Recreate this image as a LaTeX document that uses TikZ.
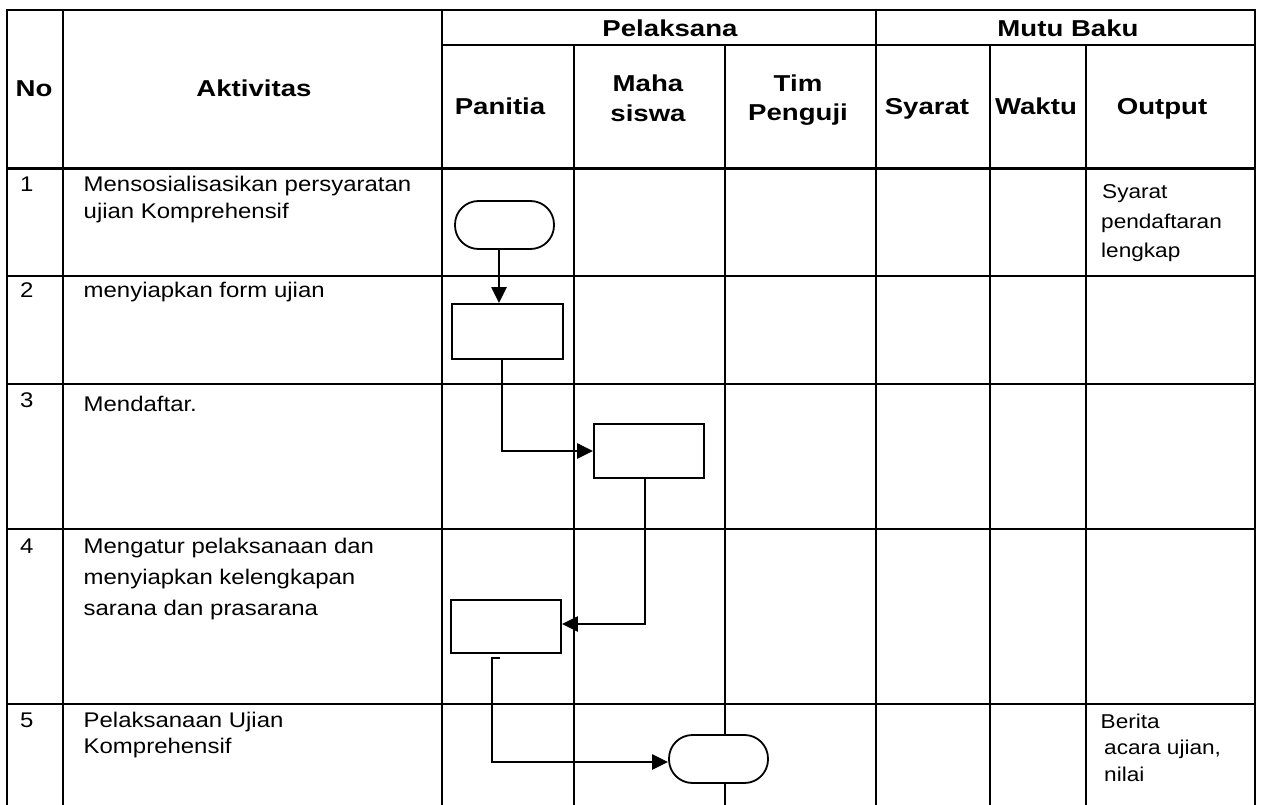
\documentclass[tikz,border=0pt]{standalone}
\usepackage{fontspec}
\setmainfont{Liberation Sans}[FakeStretch=1.13]
\newfontfamily\hdfont{Liberation Sans}[FakeStretch=1.2]
\usetikzlibrary{arrows.meta}
\begin{document}
\begin{tikzpicture}[x=1pt,y=-1pt,
  grid/.style={line width=2.6pt, line cap=rect},
  hd/.style={font=\hdfont\fontsize{23}{28}\selectfont\bfseries, inner sep=0, anchor=base},
  bd/.style={font=\fontsize{20}{24}\selectfont, inner sep=0, anchor=base west},
  act/.style={font=\fontsize{21.2}{25}\selectfont, inner sep=0, anchor=base west},
  term/.style={draw, line width=1.8pt, fill=white, rounded corners=23.5pt, minimum width=99pt, minimum height=48pt, inner sep=0},
  proc/.style={draw, line width=1.8pt, fill=white, inner sep=0},
  flow/.style={line width=2.3pt, -{Triangle[length=16pt,width=15pt]}}
]
\useasboundingbox (0,0) rectangle (1262,805);
% grid
\draw[grid] (7,10) -- (1255,10);
\draw[grid] (442,45) -- (1255,45);
\foreach \yy in {168.5,276,384,529,704} \draw[grid] (7,\yy) -- (1255,\yy);
\foreach \xx in {7,63,442,876,1255} \draw[grid] (\xx,10) -- (\xx,808);
\foreach \xx in {574,725,990,1086} \draw[grid] (\xx,45) -- (\xx,808);
% headers
\node[hd] (hNo) at (34,97) {No};
\node[hd] (hAkt) at (254,97) {Aktivitas};
\node[hd] (hPel) at (670,37) {Pelaksana};
\node[hd] (hMutu) at (1068,37) {Mutu Baku};
\node[hd] (hPan) at (500,115) {Panitia};
\node[hd] (hMaha1) at (648,92) {Maha};
\node[hd] (hMaha2) at (648,122) {siswa};
\node[hd] (hTim1) at (798,92) {Tim};
\node[hd] (hTim2) at (798,121) {Penguji};
\node[hd] (hSy) at (927,115) {Syarat};
\node[hd] (hWk) at (1036,115) {Waktu};
\node[hd] (hOut) at (1162,115) {Output};
% numbers
\node[act] (n1) at (20,192) {1};
\node[act] (n2) at (20,298) {2};
\node[act] (n3) at (20,407) {3};
\node[act] (n4) at (20,553) {4};
\node[act] (n5) at (20,727) {5};
% activities
\node[act] (a1a) at (83.5,192) {Mensosialisasikan persyaratan};
\node[act] (a1b) at (83.5,218.5) {ujian Komprehensif};
\node[act] (a2) at (83.5,298) {menyiapkan form ujian};
\node[act] (a3) at (83.5,411.5) {Mendaftar.};
\node[act] (a4a) at (83.5,553) {Mengatur pelaksanaan dan};
\node[act] (a4b) at (83.5,584) {menyiapkan kelengkapan};
\node[act] (a4c) at (83.5,615.5) {sarana dan prasarana};
\node[act] (a5a) at (83.5,727) {Pelaksanaan Ujian};
\node[act] (a5b) at (83.5,753) {Komprehensif};
% outputs
\node[bd] (o1a) at (1102,199) {Syarat};
\node[bd] (o1b) at (1101,229) {pendaftaran};
\node[bd] (o1c) at (1101,258) {lengkap};
\node[bd] (o5a) at (1100.5,728) {Berita};
\node[bd] (o5b) at (1104,754) {acara ujian,};
\node[bd] (o5c) at (1104,781) {nilai};
% flow shapes
\node[term] (t1) at (504.5,225) {};
\node[proc, minimum width=111pt, minimum height=55pt] (r2) at (507.5,331.5) {};
\node[proc, minimum width=110pt, minimum height=54pt] (r3) at (649,451) {};
\node[proc, minimum width=110pt, minimum height=53pt] (r4) at (506,626.5) {};
\node[term] (t5) at (718.5,759) {};
% connectors
\draw[flow] ([xshift=-5.5pt]t1.south) -- ([xshift=-5.5pt]t1.south |- r2.north);
\draw[flow] ([xshift=-5.5pt]r2.south) |- (r3.west);
\draw[flow] ([xshift=-4pt]r3.south) |- ([yshift=2.5pt]r4.east);
\draw[flow] ([xshift=-6pt,yshift=-4pt]r4.south) -- ++(-8,0) |- ([yshift=-3pt]t5.west);
\end{tikzpicture}
\end{document}
